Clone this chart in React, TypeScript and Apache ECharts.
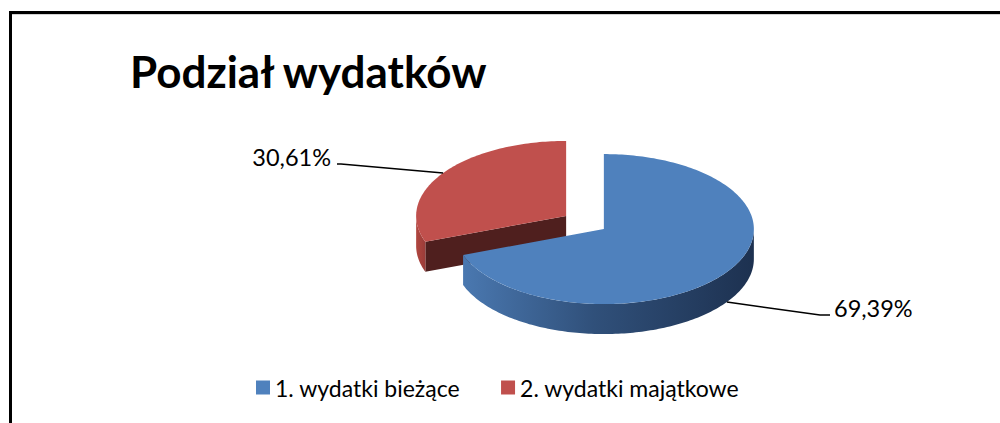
import React, { useEffect, useRef } from "react";
import * as echarts from "echarts";

const TITLE = "Podział wydatków";
const CATEGORIES = ["1. wydatki bieżące", "2. wydatki majątkowe"];
const VALUES = [69.39, 30.61];
const COLORS = ["#4F81BD", "#C0504D"];

// 3D pie geometry (layout, not data)
const CX = 585;
const CY = 222.5;
const RX = 150;
const RY = 75;
const DEPTH = 30;
const EXPLODE = 23;
const K = RY / RX;

// label leader end points (layout)
const LABEL_END = [
  { x: 830, y: 315, elbow: { x: 820, y: 315 }, align: "left" },
  { x: 337, y: 164, elbow: { x: 341, y: 164 }, align: "right" },
];

const SIDE_STYLE = [
  {
    outer: new echarts.graphic.LinearGradient(0, 0, 1, 0, [
      { offset: 0, color: "#4A78B0" },
      { offset: 0.45, color: "#30507A" },
      { offset: 1, color: "#1D3150" },
    ]),
    cut: "#2A4468",
  },
  {
    outer: new echarts.graphic.LinearGradient(0, 0, 1, 0, [
      { offset: 0, color: "#B0463F" },
      { offset: 1, color: "#9A3C39" },
    ]),
    cut: "#4F1F1E",
  },
];

const total = VALUES.reduce((a, b) => a + b, 0);

function fmt(v: number) {
  return ((v / total) * 100).toFixed(2).replace(".", ",") + "%";
}

export default function App() {
  const ref = useRef<HTMLDivElement>(null);
  useEffect(() => {
    if (!ref.current) return;
    const chart = echarts.init(ref.current, undefined, { renderer: "svg" });

    let acc = 0;
    const series = CATEGORIES.map((name, i) => {
      const f0 = acc / total;
      acc += VALUES[i];
      const f1 = acc / total;
      return {
        type: "custom",
        name,
        coordinateSystem: "none",
        z: i === 0 ? 3 : 2,
        silent: true,
        itemStyle: { color: COLORS[i] },
        emphasis: { disabled: true },
        data: [[f0, f1, VALUES[i]]],
        renderItem: (params: any, api: any) => {
          const a0 = api.value(0) * Math.PI * 2;
          const a1 = api.value(1) * Math.PI * 2;
          const v = api.value(2);
          const mid = (a0 + a1) / 2;
          const ox = EXPLODE * Math.sin(mid);
          const oy = -EXPLODE * Math.cos(mid) * K;
          const ax = CX + ox;
          const ay = CY + oy;
          const P = (t: number, dz: number) => [
            ax + RX * Math.sin(t),
            ay - RY * Math.cos(t) + dz,
          ];
          const arc = (s: number, e: number, dz: number) => {
            const n = Math.max(2, Math.ceil(Math.abs(e - s) / 0.02));
            const pts: number[][] = [];
            for (let k = 0; k <= n; k++) pts.push(P(s + ((e - s) * k) / n, dz));
            return pts;
          };
          const children: any[] = [];
          const st = SIDE_STYLE[i];
          if (Math.sin(a0) < -1e-6) {
            children.push({
              type: "polygon",
              z2: 1,
              shape: { points: [[ax, ay], P(a0, 0), P(a0, DEPTH), [ax, ay + DEPTH]] },
              style: { fill: st.cut },
            });
          }
          if (Math.sin(a1) > 1e-6) {
            children.push({
              type: "polygon",
              z2: 1,
              shape: { points: [[ax, ay], P(a1, 0), P(a1, DEPTH), [ax, ay + DEPTH]] },
              style: { fill: st.cut },
            });
          }
          const s0 = Math.max(a0, Math.PI / 2);
          const s1 = Math.min(a1, (Math.PI * 3) / 2);
          if (s1 > s0) {
            const pts = arc(s0, s1, 0).concat(arc(s1, s0, DEPTH));
            children.push({
              type: "polygon",
              z2: 1,
              shape: { points: pts },
              style: { fill: st.outer },
            });
          }
          children.push({
            type: "polygon",
            z2: 2,
            shape: { points: [[ax, ay]].concat(arc(a0, a1, 0)) },
            style: { fill: COLORS[i] },
          });
          const front = -Math.cos(mid) > 0;
          const anchor = P(mid, front ? DEPTH : 0);
          const L = LABEL_END[i];
          children.push({
            type: "polyline",
            z2: 3,
            shape: { points: [anchor, [L.elbow.x, L.elbow.y], [L.x, L.y]] },
            style: { stroke: "#000", lineWidth: 1.5, fill: null },
          });
          children.push({
            type: "text",
            z2: 3,
            style: {
              text: fmt(v),
              x: L.align === "left" ? L.x + 4 : L.x - 6,
              y: L.y - 7,
              align: L.align,
              verticalAlign: "middle",
              fill: "#000",
              font: "23.5px Lato",
            },
          });
          return { type: "group", children };
        },
      };
    });

    chart.setOption({
      animation: false,
      backgroundColor: "#fff",
      legend: {
        data: CATEGORIES,
        left: 256,
        top: 376,
        padding: 0,
        icon: "rect",
        itemWidth: 14,
        itemHeight: 14,
        itemGap: 41,
        selectedMode: false,
        textStyle: { fontFamily: "Lato", fontSize: 23, color: "#000" },
      },
      graphic: [
        {
          type: "line",
          shape: { x1: 9, y1: 12.5, x2: 1000, y2: 12.5 },
          style: { stroke: "#000", lineWidth: 3 },
        },
        {
          type: "line",
          shape: { x1: 12, y1: 14.5, x2: 1000, y2: 14.5 },
          style: { stroke: "#d4d4d4", lineWidth: 1 },
        },
        {
          type: "line",
          shape: { x1: 10.5, y1: 11, x2: 10.5, y2: 423 },
          style: { stroke: "#000", lineWidth: 3 },
        },
        {
          type: "text",
          style: {
            text: TITLE,
            x: 130,
            y: 71,
            verticalAlign: "middle",
            fill: "#000",
            font: "bold 44px Lato",
          },
        },
      ],
      series,
    } as any);
    return () => chart.dispose();
  }, []);
  return (
    <div
      ref={ref}
      style={{ position: "absolute", left: 0, top: 0, width: 1000, height: 423 }}
    />
  );
}
